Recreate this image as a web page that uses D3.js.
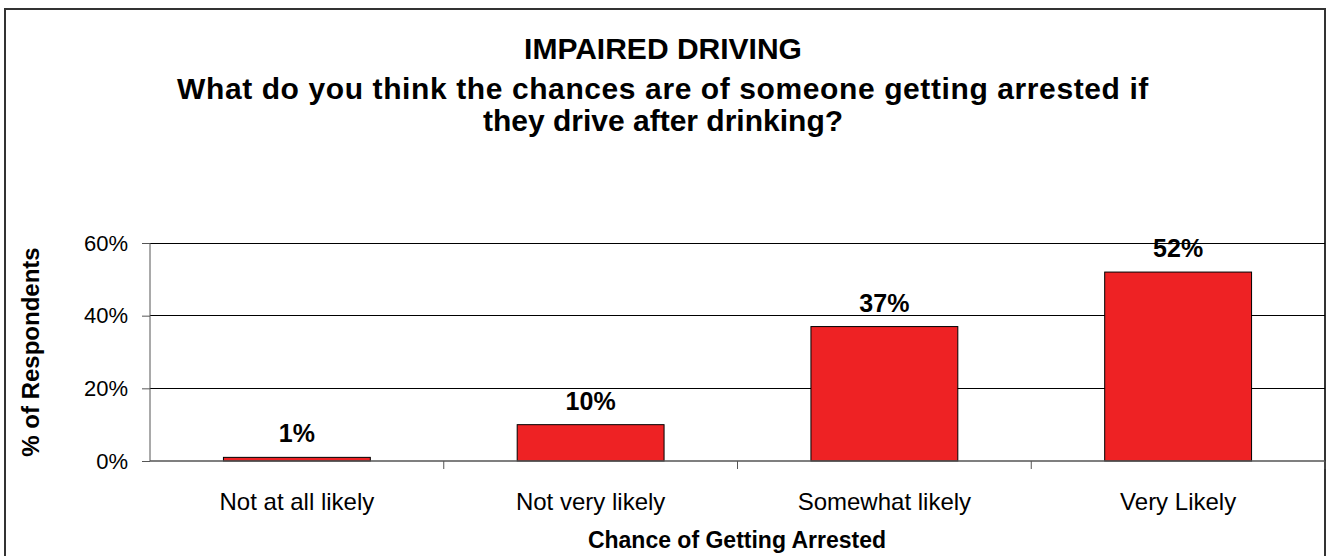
<!DOCTYPE html>
<html><head><meta charset="utf-8">
<script src="https://cdn.jsdelivr.net/npm/d3@7"></script>
<style>body{margin:0;background:#fff}svg{display:block;font-family:"Liberation Sans",Arial,sans-serif}</style>
</head><body>
<svg id="c" width="1327" height="556"></svg>
<script>
const categories = ["Not at all likely", "Not very likely", "Somewhat likely", "Very Likely"];
const values = [1, 10, 37, 52];
const yTicks = [0, 20, 40, 60];
const titleLines = ["IMPAIRED DRIVING", "What do you think the chances are of someone getting arrested if", "they drive after drinking?"];
const xTitle = "Chance of Getting Arrested";
const yTitle = "% of Respondents";

const svg = d3.select("#c");
const L = 150, R = 1325, T = 243, B = 461;
svg.append("rect").attr("x", 5).attr("y", 9).attr("width", 1320).attr("height", 600)
  .attr("fill", "none").attr("stroke", "#333").attr("stroke-width", 2);

const x = d3.scaleBand().domain(categories).range([L, R]).paddingInner(0.5).paddingOuter(0.25);
const y = d3.scaleLinear().domain([0, 60]).range([B, T]);

// gridlines
svg.append("g").selectAll("line").data(yTicks.filter(d => d > 0)).join("line")
  .attr("x1", L).attr("x2", R).attr("y1", d => y(d)).attr("y2", d => y(d))
  .attr("stroke", "#000").attr("stroke-width", 1).attr("shape-rendering", "crispEdges");

// y axis
const ya = svg.append("g").attr("transform", `translate(${L},0)`)
  .call(d3.axisLeft(y).tickValues(yTicks).tickFormat(d => d + "%").tickSize(8).tickPadding(14));
ya.select(".domain").attr("stroke", "#555").attr("d", `M0,${T}V${B}`);
ya.selectAll(".tick line").attr("stroke", "#555");
ya.selectAll("text").attr("font-size", 22).attr("fill", "#000").attr("font-family", "Liberation Sans, Arial, sans-serif");

// bars
svg.append("g").selectAll("rect").data(values).join("rect")
  .attr("x", (d, i) => x(categories[i])).attr("width", x.bandwidth())
  .attr("y", d => y(d)).attr("height", d => B - y(d))
  .attr("fill", "#EE2224").attr("stroke", "#000").attr("stroke-width", 1);

// x axis
const xa = svg.append("g").attr("transform", `translate(0,${B})`)
  .call(d3.axisBottom(x).tickSize(0).tickPadding(0));
xa.select(".domain").attr("stroke", "#555").attr("stroke-width", 1.5).attr("d", `M${L},0H${R}`);
xa.selectAll(".tick text").attr("font-size", 24).attr("fill", "#000").attr("dy", 0).attr("y", 49)
  .attr("font-family", "Liberation Sans, Arial, sans-serif");
const step = (R - L) / categories.length;
svg.append("g").selectAll("line").data(d3.range(1, categories.length + 1)).join("line")
  .attr("x1", i => L + i * step).attr("x2", i => L + i * step).attr("y1", B).attr("y2", B + 8)
  .attr("stroke", "#555");

// value labels
svg.append("g").selectAll("text").data(values).join("text")
  .attr("x", (d, i) => x(categories[i]) + x.bandwidth() / 2).attr("y", d => y(d) - 15)
  .attr("text-anchor", "middle").attr("font-weight", "bold").attr("font-size", 25).text(d => d + "%");

// titles
svg.append("g").selectAll("text").data(titleLines).join("text")
  .attr("x", 663).attr("y", (d, i) => [59, 99, 131][i]).attr("text-anchor", "middle")
  .attr("font-weight", "bold").attr("font-size", 30)
  .attr("letter-spacing", (d, i) => i === 1 ? 0.6 : 0).text(d => d);
svg.append("text").attr("x", 737).attr("y", 548).attr("text-anchor", "middle")
  .attr("font-weight", "bold").attr("font-size", 23).text(xTitle);
svg.append("text").attr("transform", "translate(39,352) rotate(-90)").attr("text-anchor", "middle")
  .attr("font-weight", "bold").attr("font-size", 24).text(yTitle);
</script></body></html>
